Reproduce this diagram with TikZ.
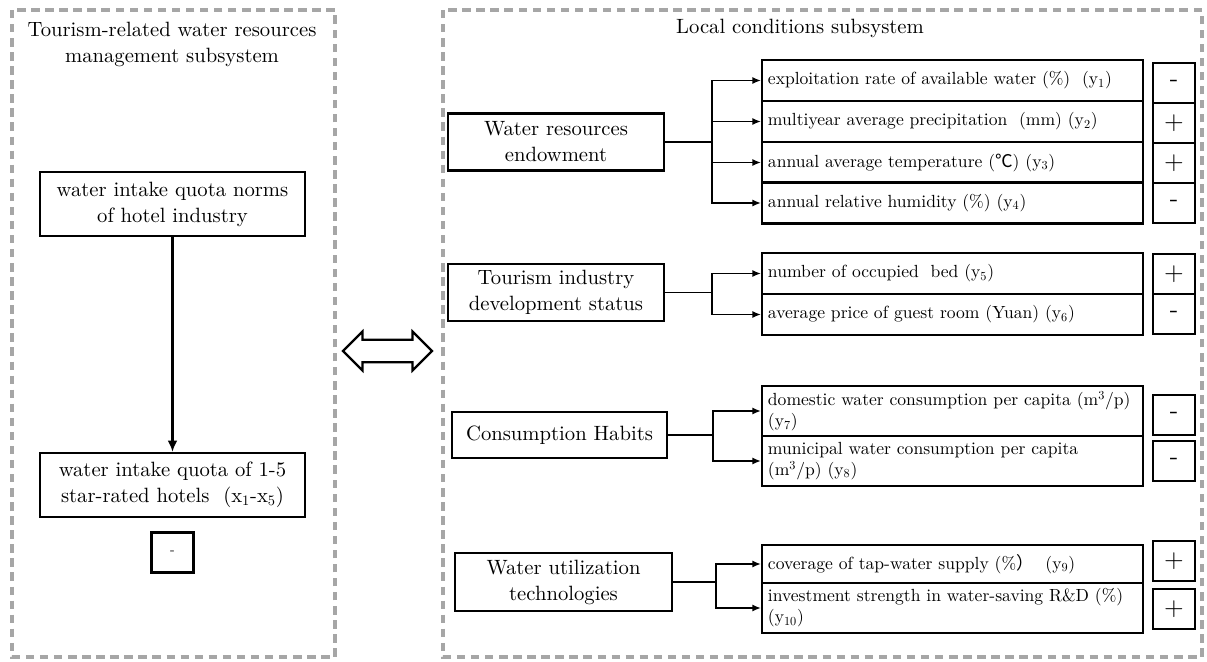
\documentclass[tikz,border=0pt]{standalone}
\usepackage{fontspec}
\usepackage{tikz}
\usetikzlibrary{arrows.meta,shapes.arrows}
\setmainfont{lmroman10-regular.otf}
\newfontfamily\cjk{Noto Sans CJK SC}

\begin{document}
\begin{tikzpicture}[x=0.025cm, y=-0.025cm,
    frame/.style={draw=gray!70, line width=2.4pt, dash pattern=on 6pt off 4pt},
    box/.style={draw, line width=1.6pt, align=center, inner sep=2pt, font=\fontsize{14.7}{18.5}\selectfont},
    ind/.style={draw, line width=1.6pt, align=left, inner xsep=0.15cm, inner ysep=1pt, text width=9.225cm, font=\fontsize{12.5}{15}\selectfont},
    sign/.style={draw, line width=1.6pt, minimum width=1.05cm, minimum height=1cm, inner sep=0pt, font=\fontsize{18}{18}\selectfont},
    link/.style={-{Latex[length=6pt,width=5pt]}, line width=1pt}]
    \useasboundingbox (0,0) rectangle (1207,662);

    \draw[frame] (12,10) rectangle (335,657);
    \draw[frame] (443,10) rectangle (1202,657);

    \node[align=center, font=\fontsize{14.7}{18.5}\selectfont] (ltitle) at (172,44) {Tourism-related water resources\\management subsystem};
    \node[box, minimum width=6.625cm, minimum height=1.6cm] (norms) at (172.5,204) {water intake quota norms\\of hotel industry};
    \node[box, minimum width=6.625cm, minimum height=1.6cm] (quota) at (172.5,485) {water intake quota of 1-5\\star-rated hotels~ (x\textsubscript{1}-x\textsubscript{5})};
    \node[sign, font=\normalsize] (xsign) at (172.5,552.5) {-};
    \draw[-{Latex[length=8pt,width=7pt]}, line width=1.5pt] (norms) -- (quota);

    \node[double arrow, draw, line width=1.6pt, minimum height=2.225cm, minimum width=0.95cm,
          double arrow head extend=0.21cm, inner sep=0.25cm] (swap) at (387.5,351) {};

    \node[font=\fontsize{14.7}{18.5}\selectfont] (rtitle) at (800,28) {Local conditions subsystem};
    \node[box, minimum width=5.4cm, minimum height=1.425cm] (wre) at (556,142) {Water resources\\endowment};
    \node[box, minimum width=5.4cm, minimum height=1.425cm] (tid) at (556,292.5) {Tourism industry\\development status};
    \node[box, minimum width=5.375cm, minimum height=1.15cm] (ch) at (559.5,435) {Consumption Habits};
    \node[box, minimum width=5.425cm, minimum height=1.45cm] (wut) at (563.5,582) {Water utilization\\technologies};

    \node[ind, minimum height=1.025cm] (y1) at (952.5,80.5) {exploitation rate of available water (\%)~ (y\textsubscript{1})};
    \node[ind, minimum height=1.025cm] (y2) at (952.5,121.5) {multiyear average precipitation~ (mm) (y\textsubscript{2})};
    \node[ind, minimum height=1.025cm] (y3) at (952.5,162.5) {annual average temperature ({\cjk ℃}) (y\textsubscript{3})};
    \node[ind, minimum height=1.025cm] (y4) at (952.5,203) {annual relative humidity (\%) (y\textsubscript{4})};
    \node[ind, minimum height=1.025cm] (y5) at (952.5,273.5) {number of occupied~ bed (y\textsubscript{5})};
    \node[ind, minimum height=1.025cm] (y6) at (952.5,314.5) {average price of guest room (Yuan) (y\textsubscript{6})};
    \node[ind, minimum height=1.25cm] (y7) at (952.5,411) {domestic water consumption per capita (m\textsuperscript{3}/p)\\(y\textsubscript{7})};
    \node[ind, minimum height=1.25cm] (y8) at (952.5,461) {municipal water consumption per capita\\(m\textsuperscript{3}/p) (y\textsubscript{8})};
    \node[ind, minimum height=0.95cm] (y9) at (952.5,564) {coverage of tap-water supply (\%{\cjk ）}~ (y\textsubscript{9})};
    \node[ind, minimum height=1.25cm] (y10) at (952.5,608) {investment strength in water-saving R\&D (\%)\\(y\textsubscript{10})};

    \foreach \n/\y/\s in {s1/83/-, s2/123/+, s3/163/+, s4/203/-, s5/274/+, s6/314/-,
                          s7/415/-, s8/461/-, s9/561/+, s10/609/+}
        \node[sign] (\n) at (1174,\y) {\s};

    \draw[line width=1pt] (wre.east) -- (712,142) coordinate (j1);
    \draw[line width=1pt] (tid.east) -- (712,292.5) coordinate (j2);
    \draw[line width=1pt] (ch.east) -- (713,435) coordinate (j3);
    \draw[line width=1pt] (wut.east) -- (716,582) coordinate (j4);
    \foreach \n in {y1,y2,y3,y4}
        \draw[link] (j1) |- (\n.west);
    \foreach \n in {y5,y6}
        \draw[link] (j2) |- (\n.west);
    \foreach \n in {y7,y8}
        \draw[link] (j3) |- (\n.west);
    \foreach \n in {y9,y10}
        \draw[link] (j4) |- (\n.west);
\end{tikzpicture}
\end{document}
